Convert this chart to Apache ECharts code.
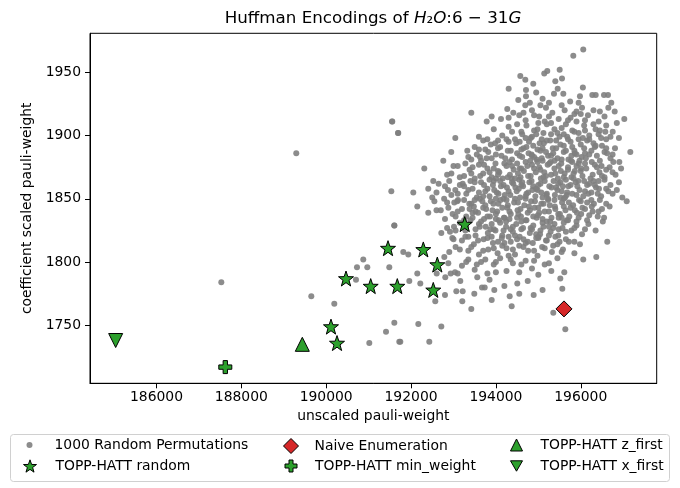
<!DOCTYPE html>
<html>
<head>
<meta charset="utf-8">
<script src="https://cdn.jsdelivr.net/npm/echarts@6/dist/echarts.min.js"></script>
<style>
  html, body { margin: 0; padding: 0; background: #fff; }
  #main { width: 680px; height: 488px; }
</style>
</head>
<body>
<div id="main"></div>
<script>
// ticks
const xTicks = [186000, 188000, 190000, 192000, 194000, 196000];
const yTicks = [1750, 1800, 1850, 1900, 1950];

// 1000 random permutations (dense core approximated)
const randomPerms = [
  [195824,1963],[196059,1968],
  [194575,1947],[194693,1944],[194881,1941],[195140,1949],[195211,1951],[195503,1952],[195558,1945],[195400,1943],
  [194301,1937],[194709,1936],[194709,1931],[195456,1937],[195589,1933],[195369,1933],[195981,1931],[196272,1932],
  [196352,1932],[196548,1932],[196642,1932],[194528,1928],[196720,1926],[195950,1926],[194693,1924],[195100,1929],
  [195750,1927],[194950,1934],[196050,1938],[195250,1926],
  [194268,1921],[194410,1918],[194551,1916],[193420,1918],[193783,1911],[195899,1919],[196170,1916],[196422,1911],
  [197026,1913],[194850,1920],[195020,1915],[195180,1922],[195330,1918],[195480,1913],[195620,1920],[195760,1914],
  [196030,1922],[196300,1920],[196560,1915],[196800,1919],[194700,1912],[195150,1911],[195900,1911],[194120,1913],
  [196650,1922],
  [193797,1897],[196753,1903],[196579,1903],[191699,1902],[191551,1911],[193950,1905],[194150,1900],[194300,1907],
  [194450,1897],[194600,1903],[194720,1908],[194850,1899],[194980,1905],[195080,1897],[195200,1909],[195300,1901],
  [195420,1896],[195550,1906],[195680,1899],[195800,1904],[195950,1897],[196080,1908],[196200,1900],[196350,1905],
  [196480,1898],[196900,1898],[194500,1909],[195000,1910],[195650,1909],[196150,1896],[193600,1899],[194050,1896],
  [194780,1895],
  [193043,1898],[192948,1887],[193326,1888],[193625,1883],[193420,1881],[192760,1880],[196807,1890],[197168,1887],
  [196909,1879],[196767,1879],[193500,1891],[193750,1889],[193880,1893],[194000,1885],[194100,1891],[194220,1882],
  [194350,1888],[194480,1894],[194560,1884],[194650,1890],[194770,1886],[194880,1892],[194960,1881],[195050,1888],
  [195130,1894],[195230,1884],[195340,1890],[195450,1882],[195520,1893],[195600,1887],[195710,1881],[195800,1891],
  [195900,1885],[196000,1893],[196120,1882],[196250,1888],[196380,1884],[196500,1892],[196620,1886],[194300,1895],
  [194900,1883],[195380,1880],[195970,1880],[193900,1882],
  [192312,1874],[192524,1864],[193217,1862],[192950,1870],[193100,1876],[193250,1868],[193380,1873],[193500,1866],
  [193600,1877],[193700,1870],[193800,1874],[193900,1867],[193990,1878],[194080,1871],[194160,1866],[194250,1876],
  [194330,1869],[194420,1873],[194500,1878],[194580,1867],[194660,1872],[194740,1876],[194820,1868],[194900,1874],
  [194980,1879],[195060,1866],[195140,1871],[195220,1877],[195300,1869],[195380,1874],[195460,1866],[195540,1878],
  [195620,1870],[195700,1875],[195780,1867],[195860,1872],[195950,1878],[196040,1868],[196130,1874],[196230,1866],
  [196330,1877],[196440,1871],[196560,1867],[196680,1875],[196820,1869],[194000,1866],[194700,1879],[195100,1880],
  [195800,1879],[193650,1880],[194450,1866],
  [192053,1855],[192406,1858],[193043,1857],[193302,1854],[192500,1851],[192800,1860],[192950,1853],[193150,1861],
  [193450,1858],[193550,1851],[193650,1863],[193750,1856],[193850,1852],[193930,1861],[194020,1855],[194100,1864],
  [194180,1850],[194260,1859],[194340,1853],[194410,1862],[194490,1856],[194570,1851],[194640,1860],[194720,1854],
  [194790,1863],[194860,1857],[194930,1852],[195000,1861],[195070,1855],[195150,1864],[195230,1850],[195310,1859],
  [195390,1853],[195470,1862],[195550,1856],[195630,1851],[195710,1860],[195800,1854],[195880,1863],[195970,1857],
  [196060,1852],[196150,1861],[196250,1855],[196360,1859],[196480,1852],[196600,1858],[196750,1854],[196979,1851],
  [197083,1848],[193400,1864],[194000,1850],[194550,1865],[195100,1851],[195650,1865],[196300,1864],
  [192147,1844],[192406,1839],[193107,1849],[193090,1848],[193373,1846],[192700,1841],[192850,1847],[192980,1838],
  [193200,1842],[193300,1836],[193480,1844],[193580,1839],[193680,1848],[193770,1842],[193860,1836],[193940,1846],
  [194030,1840],[194110,1849],[194190,1835],[194270,1843],[194350,1838],[194430,1847],[194510,1841],[194590,1836],
  [194670,1845],[194750,1839],[194830,1848],[194910,1843],[194990,1837],[195070,1846],[195150,1840],[195230,1849],
  [195310,1835],[195390,1844],[195470,1838],[195560,1847],[195640,1841],[195730,1836],[195820,1845],[195910,1839],
  [196000,1848],[196100,1842],[196200,1837],[196310,1846],[196420,1840],[196550,1835],[196680,1844],[193500,1849],
  [194450,1850],[195600,1850],[196250,1849],
  [191606,1829],[192713,1823],[192918,1824],[193012,1828],[192972,1819],[193150,1831],[193280,1825],[193400,1833],
  [193520,1821],[193620,1828],[193720,1834],[193810,1823],[193900,1830],[193990,1825],[194070,1833],[194150,1821],
  [194240,1828],[194320,1834],[194400,1824],[194480,1830],[194560,1820],[194640,1827],[194720,1833],[194800,1823],
  [194880,1829],[194960,1835],[195040,1822],[195120,1828],[195200,1832],[195290,1824],[195380,1830],[195470,1821],
  [195570,1827],[195670,1833],[195780,1825],[195900,1829],[196030,1822],[196180,1830],[196350,1825],[196520,1832],
  [193350,1820],[194200,1835],[195000,1820],[195550,1835],
  [191817,1808],[191935,1806],[192901,1808],[192784,1804],[196625,1816],[195981,1814],[193050,1812],[193200,1817],
  [193350,1809],[193480,1814],[193600,1806],[193710,1818],[193820,1810],[193930,1815],[194040,1807],[194140,1819],
  [194250,1811],[194350,1816],[194450,1806],[194550,1813],[194650,1818],[194760,1809],[194870,1815],[194980,1805],
  [195090,1812],[195200,1817],[195320,1808],[195450,1814],[195580,1810],[195720,1816],[195850,1807],[194300,1805],
  [195000,1819],
  [192878,1799],[192147,1791],[192604,1791],[192934,1791],[193036,1792],[195612,1792],[195306,1793],[196059,1802],
  [196366,1804],[190874,1802],[190726,1796],[190969,1796],[191487,1796],[193200,1797],[193350,1802],[193500,1794],
  [193650,1800],[193800,1791],[193950,1798],[194100,1803],[194250,1793],[194400,1799],[194550,1792],[194700,1801],
  [194850,1795],[195000,1790],[195150,1798],[195450,1803],[193100,1791],[194000,1792],
  [190702,1786],[191959,1785],[192218,1783],[192807,1788],[193161,1785],[193561,1788],[193672,1780],[193736,1780],
  [193491,1775],[193067,1777],[193217,1777],[193962,1778],[194504,1783],[195565,1779],[195518,1787],[187528,1784],
  [193850,1786],[194200,1781],[194750,1785],[195100,1778],
  [192800,1774],[192571,1769],[193208,1769],[193901,1770],[193420,1763],[194325,1773],[194372,1765],[194551,1775],
  [194890,1774],[195353,1760],[195636,1747],[192171,1751],[192713,1749],[191747,1737],[192430,1737],[191606,1752],
  [191410,1745],[191016,1736],[191723,1737],[189649,1773],[190191,1767],
  [189295,1886],[191558,1911],[191692,1902],[191535,1856],[191606,1829],
  // second pass over the dense core
  [193900,1915],[194300,1914],[194650,1918],[195250,1915],[195550,1924],[195850,1917],[196100,1912],[196450,1919],
  [196600,1908],[196850,1910],[195050,1924],[194800,1926],
  [194380,1903],[194620,1901],[194900,1904],[195120,1902],[195380,1905],[195600,1901],[195850,1903],[196100,1904],
  [196420,1901],
  [193700,1896],[193980,1894],[194250,1897],[194560,1895],[194820,1898],[195030,1894],[195280,1896],[195500,1899],
  [195760,1895],[196050,1898],[196300,1894],[196600,1897],
  [193600,1889],[193820,1887],[194050,1890],[194280,1888],[194500,1886],[194720,1891],[194980,1889],[195180,1887],
  [195420,1890],[195650,1888],[195860,1886],[196080,1890],[196330,1891],[196560,1887],[196750,1885],
  [193350,1883],[193550,1885],[193780,1882],[194130,1884],[194380,1881],[194620,1883],[194840,1885],[195080,1882],
  [195300,1884],[195550,1881],[195780,1884],[196020,1883],[196200,1885],[196450,1880],[196700,1882],
  [193000,1876],[193280,1878],[193450,1875],[193720,1877],[193950,1874],[194200,1878],[194380,1876],[194600,1874],
  [194850,1877],[195020,1875],[195260,1878],[195480,1876],[195700,1873],[195900,1876],[196100,1878],[196380,1875],
  [196600,1873],[196950,1874],
  [192850,1869],[193150,1867],[193420,1870],[193630,1868],[193850,1871],[194050,1869],[194280,1867],[194520,1870],
  [194760,1868],[194940,1871],[195180,1868],[195400,1870],[195600,1867],[195830,1870],[196000,1872],[196280,1869],
  [196500,1868],[196750,1871],
  [192650,1862],[192900,1864],[193250,1860],[193500,1863],[193720,1861],[193950,1864],[194180,1861],[194380,1863],
  [194600,1861],[194840,1864],[195050,1862],[195260,1860],[195520,1863],[195760,1861],[195940,1864],[196200,1862],
  [196420,1864],[196700,1861],[196900,1863],
  [192600,1855],[192870,1857],[193100,1854],[193350,1857],[193600,1855],[193800,1858],[194060,1854],[194300,1856],
  [194540,1858],[194760,1855],[194980,1857],[195200,1854],[195450,1857],[195680,1855],[195900,1853],[196100,1856],
  [196400,1854],[196650,1856],[196850,1857],
  [192550,1848],[192780,1850],[193020,1847],[193250,1849],[193420,1846],[193620,1850],[193880,1848],[194060,1846],
  [194250,1849],[194520,1847],[194700,1850],[194920,1848],[195120,1846],[195380,1849],[195520,1851],[195720,1847],
  [195960,1849],[196150,1847],[196450,1849],[196600,1846],
  [192600,1841],[192880,1843],[193100,1840],[193380,1842],[193520,1840],[193700,1843],[193920,1841],[194150,1843],
  [194320,1840],[194580,1842],[194800,1841],[195000,1843],[195250,1840],[195400,1842],[195600,1844],[195860,1841],
  [196040,1843],[196280,1840],[196500,1842],
  [192800,1834],[193050,1836],[193250,1833],[193450,1835],[193650,1832],[193800,1836],[194000,1834],[194240,1832],
  [194500,1835],[194700,1833],[194880,1836],[195100,1834],[195280,1832],[195480,1835],[195700,1833],[195950,1835],
  [196150,1833],[196400,1836],
  [192850,1827],[193050,1825],[193300,1828],[193520,1826],[193760,1828],[193950,1826],[194180,1825],[194400,1828],
  [194600,1826],[194820,1827],[195050,1825],[195250,1828],[195480,1826],[195650,1824],[195850,1827],[196100,1826],
  [193000,1818],[193280,1820],[193580,1817],[193800,1819],[194050,1816],[194300,1820],[194500,1818],[194750,1816],
  [194950,1819],[195180,1817],[195400,1820],[195650,1818],[195850,1816],
  [193150,1810],[193420,1812],[193700,1809],[193950,1811],[194150,1813],[194400,1810],[194650,1812],[194900,1809],
  [195150,1811],[195350,1813],[195550,1808],
  [193300,1800],[193550,1798],[193750,1802],[194000,1800],[194350,1802],[194600,1798],[194900,1801],[195250,1799],
  // third pass, densest part
  [194050,1872],[194320,1879],[194560,1874],[194810,1880],[195050,1873],[195290,1879],[195530,1872],[195770,1880],
  [196010,1874],[196260,1879],[196490,1876],
  [193850,1865],[194120,1860],[194370,1866],[194620,1863],[194880,1860],[195120,1867],[195360,1864],[195580,1860],
  [195830,1866],[196080,1864],[196330,1861],[196560,1865],
  [193700,1852],[193960,1857],[194210,1853],[194460,1859],[194700,1852],[194950,1858],[195190,1853],[195420,1859],
  [195670,1853],[195920,1860],[196180,1854],[196430,1858],
  [193450,1839],[193750,1845],[194000,1838],[194280,1845],[194530,1838],[194780,1844],[195020,1839],[195270,1845],
  [195510,1838],[195760,1843],[196010,1838],[196260,1844],
  [193600,1830],[193870,1826],[194100,1831],[194350,1826],[194600,1832],[194850,1826],[195100,1831],[195350,1827],
  [195600,1831],[195900,1832],
  [193900,1820],[194200,1815],[194450,1821],[194700,1815],[194950,1822],[195250,1821],[195500,1816],
  [194600,1889],[194850,1884],[195100,1890],[195350,1886],[195600,1892],[195850,1888],[196100,1886],[196350,1892],
  [196600,1890],
  [194700,1898],[194950,1901],[195200,1896],[195450,1902],[195700,1897],[195950,1902],[196200,1897],[196450,1904],
  [196700,1899],
  [195300,1910],[195700,1912],[196000,1917],[196300,1909],[194900,1916]
];
const toppRandom = [
  [190113,1749],[190255,1736],[190467,1787],[191049,1781],[191457,1811],
  [192289,1810],[192619,1798],[191676,1781],[192524,1778],[193265,1830]
];
const naiveEnum = [[195605,1763]];
const toppMinWeight = [[187622,1717]];
const toppZFirst = [[189437,1735]];
const toppXFirst = [[185038,1738]];

const FONT = 'DejaVu Sans';
const GREEN = '#2ca02c';
const STAR = 'path://M0,-10 L2.35,-3.24 L9.51,-3.09 L3.8,1.24 L5.88,8.09 L0,4 L-5.88,8.09 L-3.8,1.24 L-9.51,-3.09 L-2.35,-3.24 Z';
const PLUS = 'path://M-1,-3 L1,-3 L1,-1 L3,-1 L3,1 L1,1 L1,3 L-1,3 L-1,1 L-3,1 L-3,-1 L-1,-1 Z';
const DOWN = 'path://M-1,-0.866 L1,-0.866 L0,0.866 Z';

const names = [
  '1000 Random Permutations', 'TOPP-HATT random', 'Naive Enumeration',
  'TOPP-HATT min_weight', 'TOPP-HATT z_first', 'TOPP-HATT x_first'
];

function legendItem(name, cx, cy, size, pad, icon, border) {
  return {
    data: [icon ? { name: name, icon: icon } : name],
    left: cx - size / 2,
    top: cy - 8,
    itemWidth: size,
    itemHeight: size,
    itemStyle: { borderColor: '#000', borderWidth: border === undefined ? 1 : border },
    selectedMode: false,
    padding: 0,
    textStyle: { fontFamily: FONT, fontSize: 13.9, color: '#000', padding: [0, 0, 0, pad] }
  };
}

const markStyle = { color: GREEN, borderColor: '#000', borderWidth: 1, opacity: 1 };

const option = {
  animation: false,
  textStyle: { fontFamily: FONT },
  graphic: [
    {
      type: 'text',
      x: 373, y: 19,
      style: {
        text: 'Huffman Encodings of {i|H}₂{i|O}:6 − 31{i|G}',
        font: '16.7px "DejaVu Sans"',
        fill: '#000',
        align: 'center',
        verticalAlign: 'middle',
        rich: { i: { fontStyle: 'italic', fontSize: 16.7, fontFamily: FONT } }
      }
    },
    {
      type: 'rect',
      shape: { x: 10.5, y: 434.5, width: 659, height: 47, r: 3 },
      style: { fill: 'none', stroke: '#d0d0d0', lineWidth: 1 }
    }
  ],
  legend: [
    legendItem(names[0], 29.5, 446, 6, 17, null, 0),
    legendItem(names[1], 29.5, 467, 13, 14),
    legendItem(names[2], 290.5, 446, 15, 11),
    legendItem(names[3], 290.5, 467, 12, 13),
    legendItem(names[4], 516, 446, 12, 13),
    legendItem(names[5], 516, 467, 12, 13, DOWN)
  ],
  grid: {
    left: 90, right: 23.3, top: 33.3, bottom: 104.7,
    show: true, borderColor: '#000', borderWidth: 1
  },
  xAxis: {
    type: 'value',
    min: 184433, max: 197790,
    name: 'unscaled pauli-weight',
    nameLocation: 'middle',
    nameGap: 23,
    nameTextStyle: { fontFamily: FONT, fontSize: 13.9, color: '#000' },
    axisLine: { show: true, lineStyle: { color: '#000' } },
    axisTick: { show: true, customValues: xTicks, length: 5, lineStyle: { color: '#000' } },
    axisLabel: { customValues: xTicks, margin: 7, fontFamily: FONT, fontSize: 13.9, color: '#000', formatter: v => String(v) },
    splitLine: { show: false }
  },
  yAxis: {
    type: 'value',
    min: 1704.2, max: 1980.8,
    name: 'coefficient scaled pauli-weight',
    nameLocation: 'middle',
    nameGap: 50,
    nameTextStyle: { fontFamily: FONT, fontSize: 13.9, color: '#000' },
    axisLine: { show: true, lineStyle: { color: '#000' } },
    axisTick: { show: true, customValues: yTicks, length: 5, lineStyle: { color: '#000' } },
    axisLabel: { customValues: yTicks, margin: 9, fontFamily: FONT, fontSize: 13.9, color: '#000', formatter: v => String(v) },
    splitLine: { show: false }
  },
  series: [
    {
      name: names[0], type: 'scatter', data: randomPerms,
      symbol: 'circle', symbolSize: 6,
      itemStyle: { color: '#808080', opacity: 0.9 }
    },
    {
      name: names[1], type: 'scatter', data: toppRandom, z: 3,
      symbol: STAR, symbolSize: 15, itemStyle: markStyle
    },
    {
      name: names[2], type: 'scatter', data: naiveEnum, z: 3,
      symbol: 'diamond', symbolSize: 16,
      itemStyle: { color: '#d62728', borderColor: '#000', borderWidth: 1, opacity: 1 }
    },
    {
      name: names[3], type: 'scatter', data: toppMinWeight, z: 3,
      symbol: PLUS, symbolSize: 13, itemStyle: markStyle
    },
    {
      name: names[4], type: 'scatter', data: toppZFirst, z: 3,
      symbol: 'triangle', symbolSize: 14, itemStyle: markStyle
    },
    {
      name: names[5], type: 'scatter', data: toppXFirst, z: 3,
      symbol: DOWN, symbolSize: 14, itemStyle: markStyle
    }
  ]
};

const chart = echarts.init(document.getElementById('main'));
chart.setOption(option);
</script>
</body>
</html>
